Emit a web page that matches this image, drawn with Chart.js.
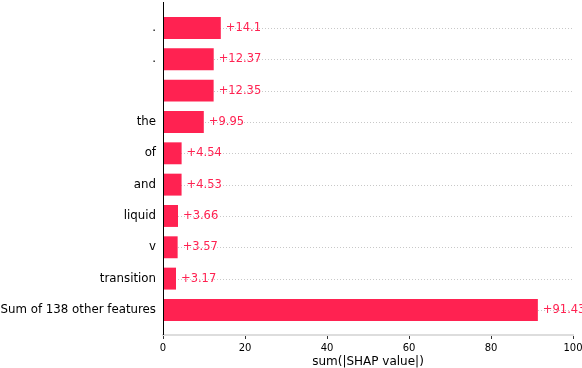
<!DOCTYPE html>
<html>
<head>
<meta charset="utf-8">
<script src="https://cdn.jsdelivr.net/npm/chart.js@4"></script>
<style>
  html, body { margin: 0; padding: 0; background: #fff; }
  #wrap { width: 582px; height: 368px; }
</style>
</head>
<body>
<div id="wrap"><canvas id="shap-chart"></canvas></div>
<script>
const features = [".", ".", "", "the", "of", "and", "liquid", "v", "transition", "Sum of 138 other features"];
const shapSums = [14.1, 12.37, 12.35, 9.95, 4.54, 4.53, 3.66, 3.57, 3.17, 91.43];
const xTicks = [0, 20, 40, 60, 80, 100];

const barRed = "#ff2251";

// dotted row guides, zero line, and the "+value" labels
const shapDecor = {
    id: "shapDecor",
    beforeDatasetsDraw(chart) {
        const { ctx, chartArea, scales } = chart;
        ctx.save();
        ctx.strokeStyle = "#c8c8c8";
        ctx.lineWidth = 1;
        ctx.setLineDash([1, 2]);
        features.forEach((f, i) => {
            const y = Math.round(scales.y.getPixelForValue(i)) + 0.5;
            ctx.beginPath();
            ctx.moveTo(chartArea.left, y);
            ctx.lineTo(scales.x.getPixelForValue(100), y);
            ctx.stroke();
        });
        ctx.restore();
    },
    afterDatasetsDraw(chart) {
        const { ctx, chartArea, scales } = chart;
        ctx.save();
        const x0 = Math.round(scales.x.getPixelForValue(0)) + 0.5;
        ctx.strokeStyle = "#000";
        ctx.lineWidth = 1;
        ctx.beginPath();
        ctx.moveTo(x0, chartArea.top);
        ctx.lineTo(x0, chartArea.bottom);
        ctx.stroke();

        ctx.fillStyle = barRed;
        ctx.font = "11.5px 'DejaVu Sans'";
        ctx.textAlign = "left";
        ctx.textBaseline = "middle";
        shapSums.forEach((v, i) => {
            const x = scales.x.getPixelForValue(v) + 5;
            const y = scales.y.getPixelForValue(i);
            ctx.fillText("+" + v, x, y);
        });
        ctx.restore();
    }
};

const ctx = document.getElementById("shap-chart").getContext("2d");
const chart = new Chart(ctx, {
    type: "bar",
    data: {
        datasets: [
            {
                data: shapSums.map((v, i) => ({ x: v, y: i })),
                backgroundColor: barRed,
                borderWidth: 0,
                categoryPercentage: 1,
                barPercentage: 0.7,
            },
        ],
    },
    options: {
        indexAxis: "y",
        responsive: true,
        maintainAspectRatio: false,
        animation: false,
        layout: { padding: { top: 2, right: 9, left: 0, bottom: 0 } },
        plugins: {
            legend: { display: false },
            tooltip: { enabled: false },
        },
        scales: {
            x: {
                type: "linear",
                min: 0,
                max: 100,
                afterBuildTicks: (scale) => {
                    scale.ticks = xTicks.map((v) => ({ value: v }));
                },
                afterFit: (scale) => {
                    scale.height = 33;
                    scale.paddingLeft = 0;
                    scale.paddingRight = 0;
                },
                grid: {
                    drawOnChartArea: false,
                    drawTicks: true,
                    tickLength: 4,
                    color: "#333",
                },
                border: { color: "#dddddd", width: 2 },
                ticks: {
                    color: "#000",
                    padding: 3,
                    font: { family: "DejaVu Sans", size: 10 },
                },
                title: {
                    display: true,
                    text: "sum(|SHAP value|)",
                    color: "#000",
                    padding: { top: 1, bottom: -1 },
                    font: { family: "DejaVu Sans", size: 12 },
                },
            },
            y: {
                type: "linear",
                reverse: true,
                offset: false,
                min: -0.83,
                max: 9.8,
                afterBuildTicks: (scale) => {
                    scale.ticks = features.map((f, i) => ({ value: i }));
                },
                afterFit: (scale) => {
                    scale.width = 163;
                    scale.paddingTop = 0;
                    scale.paddingBottom = 0;
                },
                grid: { display: false, drawTicks: false },
                border: { display: false },
                ticks: {
                    color: "#000",
                    padding: 7,
                    autoSkip: false,
                    font: { family: "DejaVu Sans", size: 11.8 },
                    callback: (value) => features[value],
                },
            },
        },
    },
    plugins: [shapDecor],
});
</script>
</body>
</html>
